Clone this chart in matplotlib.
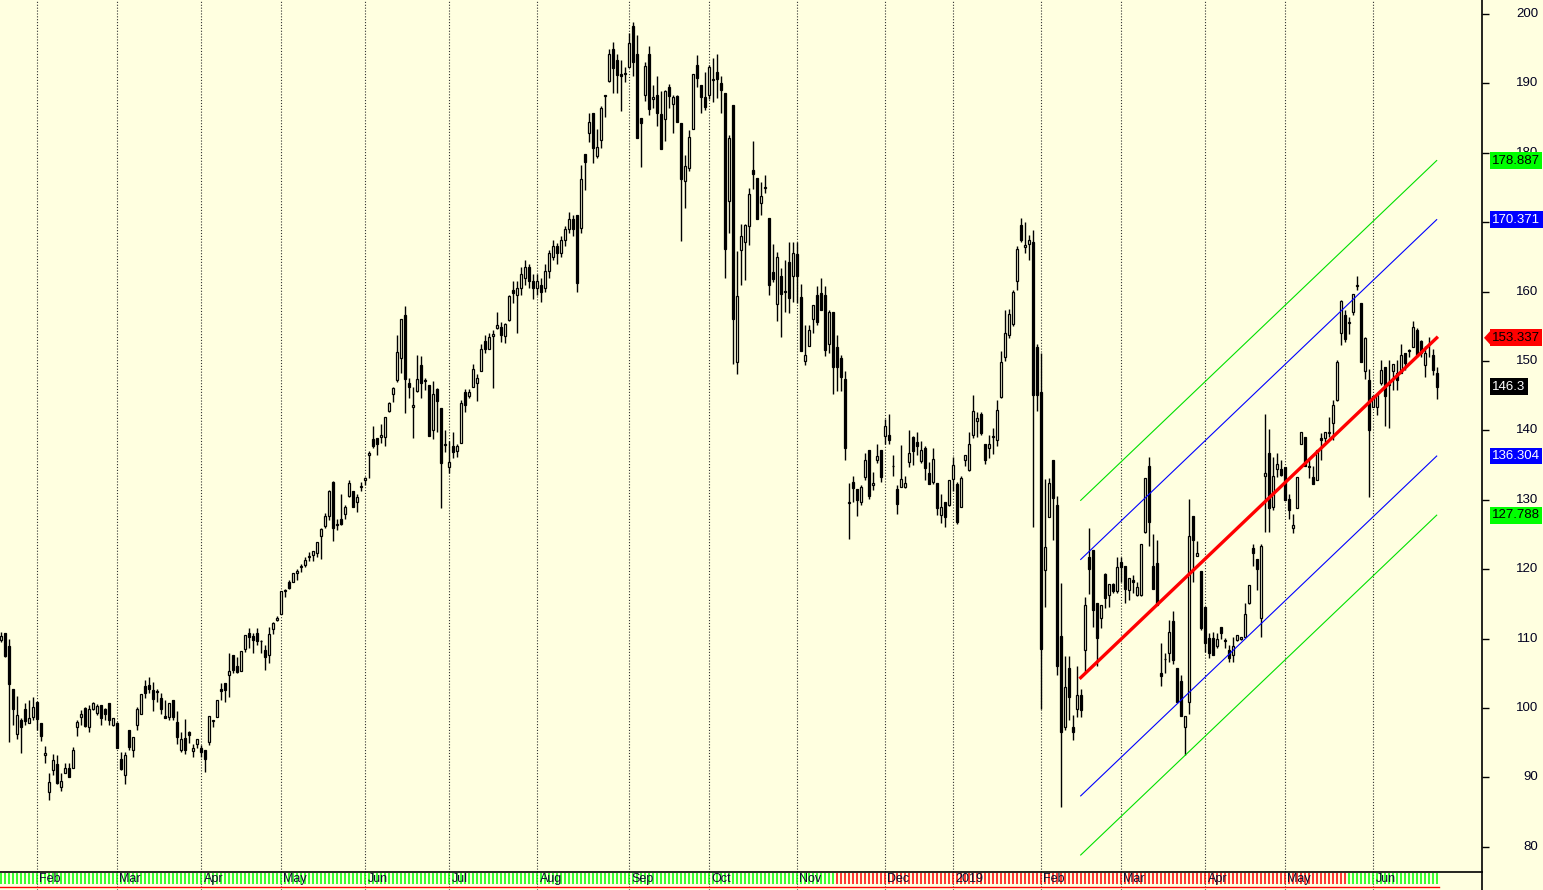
import numpy as np
import matplotlib
matplotlib.use("Agg")
import matplotlib.pyplot as plt
from matplotlib.patches import Polygon
from matplotlib.transforms import blended_transform_factory

plt.rcParams['font.family'] = ['Liberation Sans', 'DejaVu Sans']

# daily OHLC, one entry per bar (bar 0 = late Jan 2018, last bar = late Jun 2019)
opens = [
    109.8, 110.8, 108.9, 102.7, 96.2, 98.3, 99.8, 97.8, 98.7, 100.9,
    97.9, 93.2, 87.9, 91.1, 91.9, 88.6, 90.6, 91.3, 91.3, 97.3,
    98.7, 100.0, 97.3, 99.9, 99.3, 100.5, 99.8, 100.7, 97.6, 97.9,
    92.7, 90.4, 96.8, 93.9, 97.5, 99.2, 103.2, 103.3, 102.6, 102.4,
    101.4, 98.8, 98.7, 101.1, 98.0, 94.0, 95.7, 96.5, 93.8, 94.8,
    94.2, 94.0, 95.1, 98.1, 98.7, 102.7, 103.6, 104.7, 107.7, 106.0,
    105.3, 108.5, 110.8, 110.4, 110.8, 109.6, 108.4, 107.7, 111.4, 112.7,
    113.6, 117.0, 118.2, 118.2, 119.4, 120.3, 120.6, 121.7, 122.1, 122.4,
    124.8, 126.2, 127.7, 132.5, 126.4, 127.2, 127.9, 130.5, 131.2, 129.7,
    131.9, 132.8, 136.4, 138.7, 138.9, 139.0, 139.0, 142.8, 145.2, 147.3,
    150.4, 156.6, 146.8, 143.3, 145.7, 149.4, 147.2, 146.5, 140.1, 145.9,
    143.2, 137.9, 134.7, 137.8, 137.0, 138.2, 145.5, 144.9, 146.3, 146.8,
    148.6, 152.9, 151.8, 153.6, 154.8, 154.9, 153.6, 155.9, 160.2, 159.5,
    160.5, 162.0, 163.5, 161.5, 160.5, 161.0, 160.5, 163.0, 165.0, 166.5,
    165.5, 167.5, 169.0, 170.5, 171.0, 169.1, 179.8, 182.8, 185.7, 179.6,
    181.8, 188.4, 190.4, 195.0, 193.4, 191.4, 191.4, 192.4, 198.3, 194.3,
    185.0, 188.4, 194.3, 187.7, 188.3, 185.6, 184.8, 189.5, 187.1, 188.2,
    184.3, 176.0, 177.8, 183.4, 192.7, 189.8, 188.0, 188.3, 190.5, 191.7,
    190.0, 188.6, 173.1, 186.9, 149.8, 166.0, 167.1, 169.4, 177.5, 176.3,
    172.7, 174.9, 170.6, 162.8, 158.2, 162.3, 160.0, 164.2, 162.2, 165.4,
    159.2, 150.0, 152.1, 156.0, 159.5, 159.8, 159.5, 152.5, 157.1, 152.0,
    150.5, 147.4, 129.6, 132.5, 131.6, 129.7, 133.3, 137.2, 132.1, 135.7,
    137.2, 139.2, 139.4, 134.9, 131.6, 131.9, 131.8, 135.5, 139.0, 138.3,
    135.6, 137.5, 133.9, 132.6, 132.4, 127.8, 129.7, 129.3, 133.0, 132.3,
    128.9, 135.7, 134.3, 139.3, 141.4, 142.3, 138.0, 137.5, 139.1, 138.6,
    144.8, 150.6, 153.8, 155.4, 161.5, 169.6, 166.4, 166.8, 167.1, 152.0,
    145.6, 119.9, 127.5, 135.7, 129.3, 110.4, 97.3, 105.7, 97.3, 99.8,
    101.9, 108.4, 121.7, 122.8, 115.1, 112.9, 119.3, 116.3, 117.9, 116.8,
    121.0, 120.5, 117.0, 118.5, 116.3, 116.3, 125.4, 134.8, 120.5, 120.9,
    105.1, 107.0, 107.9, 112.6, 105.7, 103.9, 97.2, 100.9, 127.6, 121.9,
    119.8, 114.6, 110.1, 110.1, 108.9, 111.6, 109.8, 108.4, 107.6, 109.8,
    109.9, 110.3, 115.1, 123.0, 121.4, 112.9, 133.4, 136.8, 129.0, 134.4,
    134.4, 134.7, 130.1, 125.9, 128.8, 138.1, 139.1, 134.9, 133.3, 132.9,
    138.9, 138.9, 139.6, 141.1, 144.4, 154.1, 156.6, 155.5, 157.0, 160.8,
    158.3, 148.6, 147.3, 143.4, 143.4, 146.8, 149.2, 146.6, 148.5, 148.2,
    148.2, 151.2, 151.5, 152.0, 154.5, 152.9, 149.4, 152.5, 150.9, 148.3,
]
highs = [
    111.0, 110.8, 110.0, 102.7, 101.7, 98.6, 100.7, 101.2, 101.6, 100.9,
    97.9, 94.5, 90.6, 93.3, 93.2, 90.7, 92.1, 92.1, 94.4, 98.3,
    99.7, 100.2, 100.4, 100.8, 100.6, 100.5, 100.0, 100.7, 98.6, 98.0,
    93.6, 93.6, 96.8, 95.8, 100.2, 102.0, 104.0, 104.4, 103.8, 102.7,
    102.1, 101.2, 100.7, 101.1, 99.5, 96.5, 98.4, 96.7, 94.8, 95.6,
    94.7, 94.0, 98.9, 98.3, 101.2, 103.6, 103.6, 107.9, 107.7, 107.4,
    108.2, 110.5, 111.5, 110.8, 111.5, 109.8, 109.1, 111.7, 112.4, 113.3,
    116.8, 117.2, 118.4, 119.5, 120.0, 120.7, 121.8, 122.5, 122.6, 123.9,
    126.0, 128.1, 131.4, 132.7, 127.2, 130.9, 129.3, 132.8, 131.3, 130.8,
    132.6, 133.3, 137.0, 140.6, 138.9, 140.9, 142.0, 144.1, 146.3, 153.7,
    156.1, 157.9, 147.6, 146.3, 150.9, 150.7, 147.6, 146.6, 147.1, 146.1,
    143.2, 140.1, 138.5, 139.7, 138.0, 144.4, 146.0, 146.0, 149.6, 148.1,
    152.5, 153.8, 154.0, 154.4, 157.0, 155.6, 155.5, 159.5, 161.5, 161.5,
    163.5, 164.5, 164.0, 162.5, 162.5, 162.0, 164.0, 166.0, 167.5, 167.0,
    168.0, 169.5, 171.5, 171.0, 171.1, 178.2, 179.8, 185.7, 185.7, 183.4,
    186.8, 188.4, 195.0, 195.9, 194.2, 193.4, 192.3, 197.2, 198.9, 197.0,
    185.0, 193.1, 195.4, 189.7, 191.1, 188.9, 189.0, 189.9, 188.3, 188.3,
    184.3, 179.7, 183.3, 191.3, 194.1, 189.8, 191.7, 192.6, 193.6, 194.2,
    191.1, 188.6, 182.6, 186.9, 165.8, 169.7, 169.7, 174.9, 181.7, 176.3,
    175.8, 176.8, 170.6, 166.8, 165.7, 163.4, 164.5, 167.1, 167.1, 167.1,
    161.1, 155.2, 155.2, 158.1, 160.8, 161.9, 160.8, 157.4, 157.1, 153.7,
    150.8, 148.5, 132.4, 133.4, 131.6, 132.2, 136.7, 137.2, 134.0, 138.1,
    137.2, 141.7, 142.3, 136.4, 132.1, 137.9, 133.4, 140.0, 139.2, 139.7,
    138.5, 137.7, 135.4, 137.5, 132.4, 130.9, 129.7, 132.8, 136.2, 132.6,
    133.4, 136.4, 139.8, 145.1, 142.6, 142.6, 138.0, 139.3, 140.4, 144.4,
    151.4, 157.4, 157.5, 160.3, 166.6, 170.6, 170.1, 168.2, 168.9, 152.5,
    151.2, 133.0, 133.2, 135.7, 130.6, 118.0, 107.5, 107.5, 99.0, 106.0,
    102.8, 116.0, 125.9, 122.8, 115.1, 114.9, 119.5, 117.9, 118.0, 121.8,
    121.8, 120.5, 118.8, 119.2, 118.2, 123.7, 133.2, 136.2, 125.0, 124.2,
    109.4, 107.9, 112.7, 114.0, 105.7, 104.7, 98.9, 130.1, 127.6, 124.0,
    119.8, 114.6, 110.8, 110.9, 110.8, 111.6, 110.1, 109.1, 110.3, 110.5,
    110.3, 115.1, 117.7, 123.7, 121.4, 123.7, 142.4, 140.2, 136.2, 136.8,
    135.7, 134.7, 130.9, 128.0, 133.3, 139.8, 139.1, 135.8, 134.8, 137.2,
    139.6, 139.8, 142.0, 144.4, 150.2, 158.8, 157.4, 156.4, 159.7, 162.2,
    158.3, 153.5, 148.9, 144.9, 145.3, 150.1, 149.2, 150.1, 149.6, 150.1,
    152.5, 151.2, 151.8, 155.8, 154.7, 153.0, 152.1, 153.5, 151.8, 149.2,
]
lows = [
    109.5, 107.4, 95.1, 97.5, 95.5, 93.5, 97.6, 97.8, 98.3, 96.9,
    95.3, 92.1, 86.7, 90.3, 89.0, 88.0, 90.6, 90.0, 91.3, 96.0,
    97.5, 97.3, 96.6, 99.7, 99.0, 97.5, 98.3, 97.6, 97.4, 94.2,
    91.1, 89.0, 94.0, 93.0, 96.8, 99.2, 101.5, 102.2, 99.5, 100.8,
    99.2, 98.5, 98.3, 98.3, 94.8, 93.7, 93.3, 94.9, 93.0, 94.2,
    93.0, 90.8, 94.6, 97.2, 98.7, 101.2, 100.9, 101.6, 105.1, 105.0,
    105.3, 108.1, 108.6, 107.9, 109.1, 107.9, 105.5, 106.5, 110.7, 112.5,
    113.6, 116.0, 117.1, 118.1, 118.4, 119.6, 120.3, 121.2, 121.2, 121.8,
    121.5, 125.9, 127.1, 124.0, 125.6, 126.4, 127.3, 130.4, 129.0, 128.3,
    131.2, 132.1, 133.2, 137.5, 136.5, 138.2, 137.8, 142.6, 144.1, 147.0,
    148.3, 142.5, 144.6, 138.9, 145.6, 144.6, 145.8, 139.2, 138.7, 139.8,
    128.8, 136.9, 133.8, 136.0, 136.1, 138.2, 142.7, 144.6, 146.2, 144.3,
    148.5, 151.2, 151.8, 146.1, 154.6, 152.8, 152.6, 155.8, 158.4, 154.1,
    159.5, 161.0, 160.5, 159.0, 159.5, 158.5, 160.0, 162.0, 164.5, 164.0,
    165.0, 166.5, 168.5, 168.0, 160.0, 168.4, 174.6, 181.6, 178.6, 179.3,
    180.7, 185.2, 190.2, 188.6, 188.6, 186.0, 190.2, 192.3, 191.0, 182.1,
    177.9, 187.4, 185.4, 186.5, 183.8, 180.6, 181.7, 186.5, 182.8, 184.5,
    167.3, 172.0, 177.4, 183.4, 189.5, 185.8, 186.2, 187.8, 187.3, 187.9,
    185.7, 162.0, 168.4, 149.5, 148.1, 161.0, 161.7, 166.7, 174.8, 170.5,
    171.1, 174.2, 159.5, 161.4, 155.8, 153.5, 157.1, 156.9, 158.5, 158.4,
    151.4, 149.4, 152.1, 154.1, 155.2, 157.4, 150.7, 151.1, 145.3, 145.7,
    145.7, 135.7, 124.3, 129.7, 127.7, 129.2, 132.8, 130.1, 131.4, 135.3,
    132.6, 138.0, 138.0, 133.4, 128.0, 131.9, 131.7, 134.7, 135.0, 136.4,
    135.3, 132.8, 132.3, 132.3, 127.8, 126.6, 126.1, 129.1, 131.2, 126.5,
    128.9, 134.9, 134.1, 138.9, 139.1, 139.3, 135.1, 136.0, 136.6, 137.7,
    144.6, 150.0, 153.3, 155.0, 160.3, 167.2, 165.6, 164.5, 126.1, 142.8,
    99.9, 114.5, 127.5, 124.2, 104.8, 85.8, 96.8, 98.3, 95.4, 98.7,
    98.7, 105.0, 116.4, 111.7, 106.0, 111.5, 114.4, 114.5, 116.5, 116.5,
    118.2, 115.1, 115.6, 116.5, 116.1, 116.1, 125.2, 123.4, 117.2, 114.8,
    103.2, 105.0, 106.7, 106.4, 100.9, 98.9, 93.2, 99.2, 118.2, 121.9,
    111.2, 108.1, 107.2, 107.6, 108.6, 109.9, 108.7, 106.7, 106.7, 109.6,
    109.8, 110.3, 115.0, 120.4, 117.0, 110.3, 125.4, 125.4, 128.6, 133.3,
    133.4, 129.9, 127.3, 125.2, 128.8, 138.1, 134.8, 133.1, 132.3, 132.9,
    135.7, 138.4, 139.1, 138.6, 144.2, 152.3, 152.8, 153.9, 156.6, 160.3,
    149.8, 147.4, 130.4, 143.3, 142.2, 146.5, 140.6, 140.3, 145.8, 145.8,
    148.2, 148.7, 150.6, 152.0, 150.6, 150.6, 147.7, 150.6, 148.0, 144.5,
]
closes = [
    110.4, 107.5, 103.5, 99.8, 99.0, 97.2, 98.1, 98.5, 100.1, 98.4,
    95.9, 93.5, 89.3, 92.5, 89.2, 89.5, 91.3, 90.0, 94.0, 98.0,
    99.2, 97.4, 99.8, 100.7, 100.3, 98.5, 99.1, 98.3, 98.6, 94.3,
    91.2, 93.2, 94.4, 95.8, 99.9, 102.0, 102.1, 102.8, 101.3, 102.3,
    99.8, 98.6, 100.7, 98.7, 95.8, 95.5, 94.0, 96.1, 94.2, 95.6,
    93.7, 92.6, 98.9, 98.2, 101.2, 102.4, 102.6, 105.3, 105.5, 105.2,
    108.2, 110.5, 110.2, 109.8, 109.7, 109.7, 107.3, 110.6, 112.2, 113.0,
    116.8, 116.8, 117.3, 119.4, 119.7, 120.4, 121.3, 121.9, 122.6, 123.9,
    125.8, 127.7, 131.2, 126.0, 126.5, 126.5, 128.9, 132.4, 129.0, 130.4,
    132.0, 133.1, 136.7, 137.7, 138.1, 139.3, 141.9, 143.9, 146.1, 151.3,
    156.1, 147.4, 146.3, 143.6, 147.4, 146.9, 147.1, 139.2, 145.3, 144.3,
    135.3, 138.0, 135.5, 136.9, 137.7, 143.9, 143.6, 145.5, 148.9, 147.6,
    151.8, 151.7, 153.5, 153.9, 155.2, 153.7, 155.4, 159.4, 159.8, 160.5,
    162.5, 163.5, 161.5, 160.5, 161.5, 160.0, 163.0, 165.5, 166.5, 165.5,
    167.5, 169.0, 170.5, 169.0, 161.2, 176.2, 178.7, 184.5, 180.7, 180.8,
    186.4, 188.2, 194.2, 192.2, 191.2, 191.1, 191.4, 195.8, 193.1, 182.1,
    184.3, 192.5, 186.3, 188.0, 185.8, 180.6, 188.9, 188.2, 188.0, 184.5,
    176.2, 178.1, 182.3, 191.3, 190.8, 188.1, 186.6, 192.4, 190.5, 190.7,
    189.0, 166.1, 182.1, 156.1, 159.4, 168.0, 169.6, 174.0, 176.9, 170.5,
    173.8, 175.1, 161.0, 161.8, 165.0, 159.7, 159.9, 159.1, 165.5, 162.2,
    151.4, 150.9, 154.5, 158.1, 155.6, 157.4, 151.6, 157.0, 149.1, 149.1,
    147.7, 137.4, 129.7, 131.7, 130.0, 131.9, 135.7, 130.6, 132.4, 136.3,
    133.3, 140.7, 138.6, 134.8, 129.4, 133.0, 132.4, 136.7, 137.0, 137.7,
    137.2, 134.6, 132.3, 135.9, 128.8, 129.0, 127.5, 132.8, 135.0, 126.8,
    133.2, 136.4, 138.0, 142.8, 141.8, 139.6, 135.7, 138.1, 139.2, 143.0,
    149.8, 154.0, 156.8, 159.9, 166.2, 167.4, 166.7, 167.4, 145.1, 145.1,
    108.5, 123.2, 132.4, 130.2, 106.0, 96.6, 103.0, 101.6, 96.6, 101.9,
    99.7, 114.9, 120.1, 114.1, 110.1, 114.9, 115.8, 117.9, 116.8, 120.3,
    120.3, 117.1, 118.8, 118.1, 117.4, 123.7, 133.2, 126.8, 117.2, 114.8,
    104.6, 107.1, 110.9, 106.9, 100.9, 98.9, 98.9, 124.8, 124.2, 122.3,
    111.5, 109.3, 107.9, 107.6, 109.9, 110.8, 109.6, 107.2, 108.9, 110.5,
    110.3, 113.6, 117.7, 122.3, 120.1, 123.3, 133.8, 128.8, 133.4, 135.1,
    133.6, 129.9, 128.6, 126.3, 133.3, 139.8, 134.8, 134.7, 132.3, 137.2,
    138.6, 139.8, 139.8, 143.7, 149.9, 158.7, 153.1, 155.6, 159.6, 160.9,
    149.8, 153.3, 140.0, 144.9, 145.3, 148.7, 144.9, 146.5, 149.6, 147.2,
    150.9, 149.7, 151.4, 154.9, 150.9, 151.1, 151.1, 152.4, 148.7, 146.3,
]

# first bar of each month and its label
month_bars = [9, 29, 50, 70, 91, 112, 134, 157, 177, 199, 221, 238, 260, 280, 301, 321, 343]
month_names = ["Feb", "Mar", "Apr", "May", "Jun", "Jul", "Aug", "Sep", "Oct", "Nov", "Dec",
               "2019", "Feb", "Mar", "Apr", "May", "Jun"]

# regression channel
channel_bars = [270, 359]
channel_mid = [104.37, 153.337]
inner_width = 17.033
outer_width = 25.549

# price tags on the right scale
tag_labels = ["178.887", "170.371", "153.337", "146.3", "136.304", "127.788"]
tag_fill = ['#00FF00', '#0000FF', '#FF0000', 'black', '#0000FF', '#00FF00']
tag_text = ['black', 'white', 'black', 'white', 'white', 'black']

# strip colour changes (bar index where red / green start again)
red_from = 209
green_from = 337

bg = '#FFFFE0'
W, H = 1543, 890
plot_w = 1482
strip_h = 18

fig = plt.figure(figsize=(W / 100, H / 100), dpi=100, facecolor=bg)
ax = fig.add_axes([0, strip_h / H, plot_w / W, (H - strip_h) / H], facecolor=bg)
axs = fig.add_axes([0, 0, plot_w / W, strip_h / H], facecolor=bg, sharex=ax)

o = np.array(opens); h = np.array(highs); l = np.array(lows); c = np.array(closes)
x = np.arange(len(c))
up = c >= o

xmin, xmax = -0.7 / 4, (plot_w - 0.7) / 4
ax.set_xlim(xmin, xmax)
ax.set_ylim(200 - 858 / 6.94, 200 + 14 / 6.94)

# month separators
for mb in month_bars:
    ax.axvline(mb, color='#303030', lw=0.8, ls=(0, (1, 1.6)), zorder=1)
    axs.axvline(mb, color='#303030', lw=0.8, ls=(0, (1, 1.6)), zorder=1)

# candles
ax.vlines(x, l, h, color='black', lw=1.0, zorder=2)
body_low = np.minimum(o, c)
body_h = np.maximum(np.abs(c - o), 0.12)
ax.bar(x, body_h, bottom=body_low, width=0.55,
       color=[bg if u else 'black' for u in up],
       edgecolor='black', linewidth=0.9, zorder=3)

# channel
ax.plot(channel_bars, channel_mid, color='#FF0000', lw=2.4, zorder=4)
for off, col in [(inner_width, '#0000FF'), (outer_width, '#00E000')]:
    ax.plot(channel_bars, [v + off for v in channel_mid], color=col, lw=0.8, zorder=4)
    ax.plot(channel_bars, [v - off for v in channel_mid], color=col, lw=0.8, zorder=4)

# right axis
for s in ['top', 'left', 'bottom']:
    ax.spines[s].set_visible(False)
ax.spines['right'].set_linewidth(1.2)
ax.set_xticks([])
ax.yaxis.tick_right()
ax.set_yticks(range(80, 201, 10))
ax.tick_params(axis='y', direction='out', length=5, width=1, labelright=False)

tr = blended_transform_factory(ax.transAxes, ax.transData)
for v in range(80, 201, 10):
    ax.text(1538 / plot_w, v, str(v), transform=tr, ha='right', va='center',
            fontsize=9.5, color='#000020', clip_on=False, zorder=5)

for lab, fc, tc in zip(tag_labels, tag_fill, tag_text):
    ax.text(1492 / plot_w, float(lab), lab, transform=tr, ha='left', va='center',
            fontsize=9.5, color=tc, clip_on=False, zorder=6,
            bbox=dict(boxstyle='square,pad=0.18', fc=fc, ec='none'))
mid_end = float(tag_labels[2])
tri = Polygon([[1484 / plot_w, mid_end], [1491 / plot_w, mid_end + 1.1], [1491 / plot_w, mid_end - 1.1]],
              closed=True, transform=tr, fc='#FF0000', ec='none', clip_on=False, zorder=6)
ax.add_patch(tri)

# bottom date strip
axs.set_ylim(0, strip_h)
for s in ['left', 'bottom']:
    axs.spines[s].set_visible(False)
axs.spines['top'].set_linewidth(1.2)
axs.spines['right'].set_linewidth(1.2)
axs.set_xticks([]); axs.set_yticks([])
strip_cols = ['#00FF00' if (k < red_from or k >= green_from) else '#FF0000' for k in x]
axs.vlines(x, 6, 17, colors=strip_cols, lw=1.1, zorder=2)
axs.plot([xmin, x[-1] + 0.5], [3, 3], color='#FF0000', lw=1.0, zorder=2)
for mb, name in zip(month_bars, month_names):
    axs.text(mb + 0.7, 11, name, ha='left', va='center', fontsize=9, color='#101030', zorder=3)

fig.savefig('out.png', dpi=100, facecolor=bg)
